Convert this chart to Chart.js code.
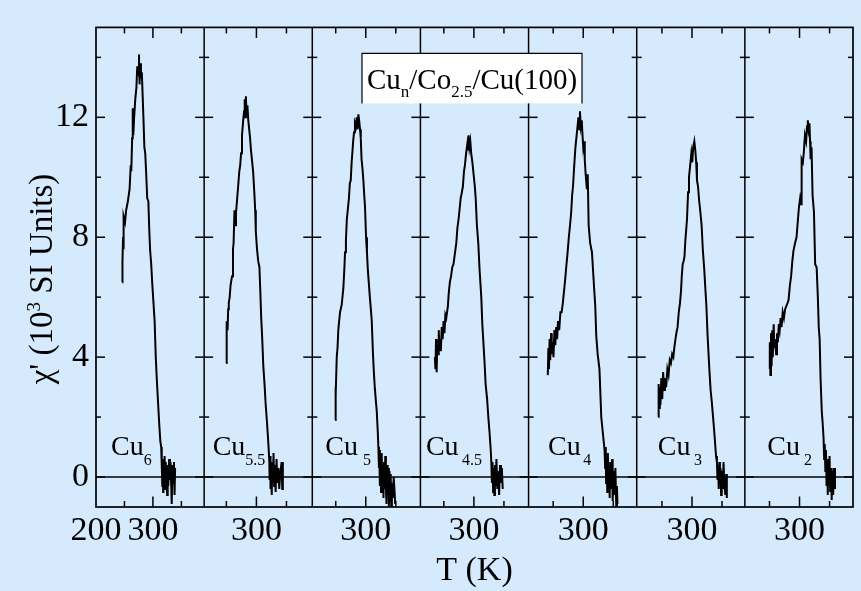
<!DOCTYPE html>
<html>
<head>
<meta charset="utf-8">
<title>Cu/Co/Cu(100) susceptibility</title>
<script src="https://cdn.jsdelivr.net/npm/chart.js@4.4.0/dist/chart.umd.min.js"></script>
<style>
  html, body { margin: 0; padding: 0; background: #d6eafd; }
  #wrap { width: 861px; height: 591px; }
</style>
</head>
<body>
<div id="wrap"><canvas id="chiChart"></canvas></div>
<script>
/* chi'(T) of Cu_n/Co2.5/Cu(100), one panel per Cu cap thickness */

// ── Panels ──
const capNames = ['6', '5.5', '5', '4.5', '4', '3', '2'];
const tMin = [200, 213, 211, 211, 209, 208, 209];
const tMax = [390, 393, 391, 391, 389, 388, 389];
const yTickValues = [0, 4, 8, 12];

// ── Curves: [T (K), chi' (10^3 SI)] ──
const cu6 = [
    [246, 6.5], [246.5, 7.2], [247.5, 8.0], [248, 7.6], [249, 8.7], [251, 8.5], [253, 8.9], [256, 9.2],
    [259, 9.6], [261, 10.4], [262, 10.2], [263.5, 11.3], [264.5, 12.3], [265.5, 11.4], [267, 12.0], [269, 12.6],
    [271, 13.0], [272.5, 13.7], [274, 13.4], [275.5, 14.1], [276.5, 13.1], [277.5, 13.8], [279, 13.3], [280.5, 13.5],
    [282, 12.7], [283.5, 11.9], [285, 11.0], [286.5, 10.8], [288, 10.2], [290, 9.3], [292, 9.2], [293.5, 8.3],
    [295, 7.6], [297, 7.1], [299, 6.4], [301, 5.8], [303, 5.2], [305, 4.0], [307, 3.2], [309, 2.5],
    [311, 1.8], [313, 1.2], [314.5, 1.0], [315.5, 0.4], [316.5, -0.3], [317, 0.6], [318, -0.5], [318.5, 0.3],
    [319.5, -0.2], [320.5, 0.7], [321.5, -0.4], [322.5, 0.5], [324, 0.0], [325, -0.6], [326, 0.4], [327, -0.3],
    [328.5, 0.6], [330, -0.1], [331, 0.5], [333, -0.9], [334.5, 0.4], [336, -0.2], [337, 0.5], [338, -0.6], [339, 0.3]
];
const cu55 = [
    [249.5, 3.8], [250, 4.6], [250.5, 4.1], [251, 5.2], [252, 4.9], [253, 5.6], [254, 5.8], [255.5, 6.0],
    [257, 6.4], [259.5, 6.7], [261, 7.6], [262, 7.8], [263.5, 8.9], [264.5, 8.4], [266, 8.8], [268, 9.3],
    [270, 9.8], [271.5, 10.2], [273, 10.4], [274.5, 10.8], [276, 11.4], [278, 11.9], [279.5, 12.2], [280.5, 12.6],
    [281.5, 12.0], [282.5, 12.7], [283.5, 12.1], [285, 12.4], [286.5, 11.9], [288, 11.6], [289.5, 11.3], [291, 10.9],
    [293, 10.5], [294.5, 10.2], [296.5, 9.5], [298, 8.9], [299, 8.2], [301, 7.6], [303, 7.2], [305, 7.0],
    [306.5, 6.2], [308, 5.3], [309.5, 4.7], [311.5, 3.7], [313.5, 3.1], [315.5, 2.4], [317, 2.0], [319, 1.4],
    [320.5, 0.9], [321.5, 0.5], [322, -0.1], [323, 0.7], [323.5, -0.4], [324.5, 0.3], [325.5, -0.6], [326.5, 0.5],
    [327.5, -0.2], [328.5, 0.8], [329.5, -0.3], [330.5, 0.4], [332, -0.5], [333.5, 0.6], [335, -0.2], [336.5, 0.3],
    [338, -0.4], [340, 0.2], [342, 0.5], [343, -0.4], [344, 0.5]
];
const cu5 = [
    [249, 1.9], [249.5, 3.0], [250.3, 2.7], [251.7, 4.0], [253, 4.3], [254.3, 4.9], [255.7, 5.2], [257.2, 5.5],
    [260, 5.75], [262.7, 6.3], [264.5, 7.0], [265.5, 7.5], [267, 7.9], [268.5, 8.6], [270, 8.9], [272, 9.3],
    [273.5, 9.8], [275, 9.9], [276.5, 10.5], [278, 10.9], [279, 11.2], [280.5, 11.5], [282, 11.8], [283.5, 11.7],
    [285, 12.0], [286.5, 11.6], [287.7, 12.1], [289, 11.9], [290.5, 11.6], [291.7, 11.3], [293, 10.6], [294.5, 10.3],
    [296, 9.9], [297.5, 9.4], [298.8, 9.0], [300.5, 8.0], [302, 7.5], [303.5, 6.9], [305, 6.5], [307, 5.95],
    [308.5, 5.6], [310, 5.2], [312, 4.1], [313.5, 3.5], [315, 3.0], [317, 2.5], [318.3, 2.2], [320, 1.5],
    [321, 1.0], [322, 0.3], [322.5, 0.9], [323.5, -0.3], [324.5, 0.6], [325.5, -0.5], [326.5, 0.8], [327.5, -0.2],
    [328.5, 0.4], [329.5, -0.7], [330.5, 0.5], [331.5, -0.4], [332.5, 0.7], [333.5, -0.3], [334.5, -0.9], [335.5, 0.4],
    [336.5, -0.6], [337.5, 0.3], [338.5, -1.0], [339.5, 0.2], [340.5, -0.8], [341.5, 0.1], [342.5, -1.05], [343.5, -0.2],
    [345, -0.7], [346.5, 0.0], [348, -0.5], [349, -0.9]
];
const cu45 = [
    [235, 4.0], [236, 3.6], [237, 4.6], [238, 3.5], [239, 4.4], [240.5, 4.1], [241.5, 4.9], [242.5, 4.3],
    [244, 4.6], [245, 4.2], [246.5, 5.0], [248, 4.6], [249.5, 5.2], [251, 4.8], [252.5, 5.4], [254, 5.3],
    [256.7, 5.7], [258, 6.1], [260, 6.5], [262, 6.7], [264, 7.0], [266, 7.1], [268, 7.4], [270.7, 7.8],
    [272.5, 8.3], [274.5, 8.6], [276.5, 9.0], [278, 9.3], [280, 9.5], [281.7, 9.7], [283.5, 10.2], [285, 10.4],
    [287, 10.8], [289, 11.1], [290, 10.9], [291.2, 11.4], [292.5, 11.0], [294, 11.2], [295.5, 10.8], [297.5, 10.5],
    [299.5, 10.1], [301.5, 9.7], [303, 9.3], [305, 8.4], [307.3, 7.8], [309.5, 6.9], [312.3, 6.0], [314, 5.1],
    [315.5, 4.6], [317.8, 3.8], [319.5, 3.1], [322, 2.6], [324, 2.0], [326, 1.5], [328, 0.9], [329, 0.5],
    [330, -0.2], [331, 0.5], [332, -0.5], [333, 0.3], [334, -0.6], [335, 0.4], [336, -0.3], [337.5, 0.6],
    [339, -0.4], [340.5, 0.2], [342, -0.6], [343.5, 0.4], [345, -0.2], [346.5, 0.3], [348, -0.4]
];
const cu4 = [
    [241, 3.4], [242, 4.3], [243, 3.6], [244, 4.6], [245, 3.9], [246.5, 4.8], [247.5, 4.1], [249, 4.5],
    [250.5, 4.0], [252, 4.9], [253.5, 4.4], [255, 5.0], [256.5, 4.6], [258, 5.2], [260, 4.9], [262, 5.5],
    [264, 5.5], [266, 5.8], [268, 6.2], [270, 6.6], [271.7, 7.0], [274, 7.5], [276, 8.0], [278, 8.4],
    [280, 8.85], [281.5, 9.4], [283, 9.7], [285, 10.4], [287, 11.0], [289, 11.4], [290.5, 11.7], [292, 12.0],
    [293, 11.6], [294.5, 12.2], [296, 11.7], [297.5, 11.9], [298.5, 11.5], [300, 11.0], [301.5, 11.2], [302.5, 10.6],
    [304, 10.1], [306, 9.6], [307.5, 10.1], [309, 8.4], [311.5, 7.8], [314.5, 7.5], [317.5, 6.5], [320, 5.7],
    [321.7, 4.7], [324, 4.1], [327, 3.6], [330, 2.0], [332, 1.6], [334, 1.2], [335.5, 0.9], [336.5, 0.3],
    [337.5, 1.0], [338, -0.2], [339, 0.6], [340, -0.5], [341, 0.8], [342, -0.3], [343, 0.4], [344, -0.7],
    [345, 0.5], [346.5, -0.4], [348, 0.6], [349, -0.8], [350.5, 0.2], [352, -0.6], [353.5, 0.3], [355, -1.0],
    [356, -0.3], [357, -0.9]
];
const cu3 = [
    [244, 2.0], [244.5, 3.1], [245.5, 2.3], [246.5, 3.0], [247.5, 2.4], [249, 3.3], [250.5, 2.6], [252, 3.5],
    [253.5, 2.9], [255, 3.3], [257, 3.0], [259, 3.6], [261, 3.4], [263, 3.9], [265, 3.8], [267, 4.1],
    [269, 4.0], [270.5, 4.3], [272.5, 4.6], [274, 4.8], [276, 5.0], [278, 5.5], [280, 5.8], [281.7, 6.2],
    [283, 6.7], [284.5, 7.1], [286, 7.2], [287.5, 7.35], [289, 7.9], [291.7, 8.6], [293.5, 9.5], [295, 10.0],
    [297, 10.4], [298.9, 10.8], [300.5, 10.5], [302, 11.0], [303.9, 11.2], [305.5, 10.9], [307, 10.5], [308.3, 9.9],
    [310, 9.7], [312, 9.2], [313.9, 8.85], [316, 8.4], [318, 7.6], [320.5, 6.9], [322.5, 6.2], [324, 5.7],
    [326, 4.7], [328.9, 3.6], [331, 2.9], [333, 2.5], [335.5, 1.9], [337.5, 1.4], [340, 0.7], [341.5, 0.5],
    [342.5, -0.1], [343.5, 0.4], [344.5, -0.4], [345.5, 0.5], [346.5, -0.2], [347.5, 0.3], [348.5, -0.6], [349.5, 0.2],
    [351, -0.4], [352.5, 0.5], [354, -0.3], [355.5, -0.6], [357, 0.1], [358, -0.7]
];
const cu2 = [
    [250, 3.6], [250.5, 4.5], [251.5, 3.4], [252.5, 4.8], [253.5, 3.7], [254.5, 4.9], [255.5, 4.0], [257, 5.1],
    [258, 4.3], [259.5, 4.6], [261, 4.1], [262.5, 4.8], [264, 4.5], [265.5, 5.1], [267, 4.9], [268.5, 5.3],
    [270, 5.0], [272, 5.5], [274, 5.3], [276, 5.6], [278, 5.7], [280, 5.8], [281.7, 5.9], [284, 6.4],
    [286, 6.7], [288, 7.2], [290, 7.56], [292.5, 7.8], [295, 8.0], [297, 8.5], [299, 9.0], [301, 9.3],
    [302.5, 9.1], [303.5, 10.6], [305.5, 10.5], [307, 10.8], [309, 11.4], [311, 11.2], [312.5, 11.7], [313.8, 11.9],
    [315, 11.6], [316.5, 11.8], [317.5, 11.2], [318.5, 10.6], [320, 11.0], [321.7, 9.4], [324, 8.85], [326, 7.1],
    [328.5, 7.0], [330.5, 6.0], [332, 5.0], [333.5, 4.6], [335, 3.3], [337, 2.2], [338.5, 1.8], [340, 1.3],
    [341, 0.6], [342, 1.1], [343, 0.2], [344, 0.9], [345, -0.3], [346, 0.6], [347, -0.6], [348, 0.4],
    [349, -0.2], [350, 0.7], [351, -0.5], [352.5, 0.3], [353.5, -0.77], [354.5, 0.2], [356, -0.6], [357.5, 0.3], [359, -0.4]
];
const curves = [cu6, cu55, cu5, cu45, cu4, cu3, cu2];

const SERIF = '"Liberation Serif", "Times New Roman", serif';
const BG = '#d6eafd';
const panelIds = capNames.map((n, i) => 'x' + (i + 1));

// label placement inside each panel: offset of "Cu" from panel left, gap before subscript
const labelDx = [15, 8.5, 13, 5.5, 19.5, 21, 22.5];
const labelGap = [0, 0, 5, 3.5, 2.5, 3.5, 4];

function strokeLine(ctx, x1, y1, x2, y2) {
    ctx.beginPath();
    ctx.moveTo(x1, y1);
    ctx.lineTo(x2, y2);
    ctx.stroke();
}

// text made of [string, font, baseline shift] pieces, drawn left to right
function drawPieces(ctx, pieces, x, y) {
    pieces.forEach(([txt, font, dy]) => {
        ctx.font = font;
        ctx.fillText(txt, x, y + dy);
        x += ctx.measureText(txt).width;
    });
    return x;
}
function piecesWidth(ctx, pieces) {
    let w = 0;
    pieces.forEach(([txt, font]) => { ctx.font = font; w += ctx.measureText(txt).width; });
    return w;
}

// ── Frame, inward ticks, zero line, labels ──
const framePlugin = {
    id: 'frame',
    beforeDraw(chart) {
        const { ctx, width, height } = chart;
        ctx.save();
        ctx.fillStyle = BG;
        ctx.fillRect(0, 0, width, height);
        ctx.restore();
    },
    afterDatasetsDraw(chart) {
        const { ctx, chartArea: a } = chart;
        const y = chart.scales.y;
        ctx.save();
        ctx.strokeStyle = '#000';
        ctx.lineWidth = 1.5;

        const y0 = y.getPixelForValue(0);
        strokeLine(ctx, a.left, y0, a.right, y0);

        panelIds.forEach((id, i) => {
            const s = chart.scales[id];
            if (i > 0) strokeLine(ctx, s.left, a.top, s.left, a.bottom);
            for (let v = 0; v <= 14; v += 2) {
                const py = y.getPixelForValue(v);
                const len = v % 4 === 0 ? 9 : 5;
                strokeLine(ctx, s.left, py, s.left + len, py);
                strokeLine(ctx, s.right - len, py, s.right, py);
            }
            [250, 300, 350].forEach(t => {
                const px = s.getPixelForValue(t);
                const len = t === 300 ? 10.5 : 6;
                strokeLine(ctx, px, a.top, px, a.top + len);
                strokeLine(ctx, px, a.bottom - len, px, a.bottom);
            });
        });
        ctx.lineWidth = 1.7;
        ctx.strokeRect(a.left, a.top, a.right - a.left, a.bottom - a.top);

        // panel labels Cu_n
        ctx.fillStyle = '#000';
        ctx.textBaseline = 'alphabetic';
        ctx.textAlign = 'left';
        panelIds.forEach((id, i) => {
            const s = chart.scales[id];
            const base = y.getPixelForValue(0.73);
            ctx.font = '28px ' + SERIF;
            const x = s.left + labelDx[i];
            ctx.fillText('Cu', x, base);
            const w = ctx.measureText('Cu').width;
            ctx.font = '16px ' + SERIF;
            ctx.fillText(capNames[i], x + w + labelGap[i], base + 9.5);
        });

        // sample box
        const bx = a.left + 266, by = a.top + 26, bw = 220, bh = 50;
        ctx.fillStyle = '#fff';
        ctx.fillRect(bx, by, bw, bh);
        ctx.lineWidth = 1.2;
        ctx.beginPath();
        ctx.moveTo(bx, by + bh);
        ctx.lineTo(bx, by);
        ctx.lineTo(bx + bw, by);
        ctx.lineTo(bx + bw, by + bh);
        ctx.stroke();
        const big = '29px ' + SERIF, sub = '17px ' + SERIF;
        const boxText = [['Cu', big, 0], ['n', sub, 7.5], ['/Co', big, 0], ['2.5', sub, 7.5], ['/Cu(100)', big, 0]];
        ctx.fillStyle = '#000';
        const tw = piecesWidth(ctx, boxText);
        drawPieces(ctx, boxText, bx + (bw - tw) / 2, by + 36);
        ctx.restore();
    },
    afterDraw(chart) {
        // y axis title with superscript
        const { ctx } = chart;
        ctx.save();
        ctx.translate(52, 279);
        ctx.rotate(-Math.PI / 2);
        ctx.fillStyle = '#000';
        ctx.textBaseline = 'alphabetic';
        ctx.textAlign = 'left';
        const big = '33px ' + SERIF, sup = '19px ' + SERIF;
        const title = [["\u03C7' (10", big, 0], ['3', sup, -12], [' SI Units)', big, 0]];
        const tw = piecesWidth(ctx, title);
        drawPieces(ctx, title, -tw / 2, 0);
        ctx.restore();
    }
};

// ── Scales ──
const scales = {
    y: {
        type: 'linear',
        position: 'left',
        min: -1,
        max: 15,
        grid: { display: false, drawTicks: false },
        border: { display: false },
        afterBuildTicks: s => { s.ticks = yTickValues.map(v => ({ value: v })); },
        afterFit: s => { s.width = 96; },
        ticks: { color: '#000', padding: 7, font: { family: SERIF, size: 34 } }
    }
};
panelIds.forEach((id, i) => {
    scales[id] = {
        type: 'linear',
        position: 'bottom',
        stack: 'temperature',
        min: tMin[i],
        max: tMax[i],
        grid: { display: false, drawTicks: false },
        border: { display: false },
        afterBuildTicks: s => { s.ticks = (i === 0 ? [200, 300] : [300]).map(v => ({ value: v })); },
        afterFit: s => { s.height = 84; },
        ticks: {
            color: '#000', padding: 4, autoSkip: false, maxRotation: 0,
            font: { family: SERIF, size: 34 }
        },
        title: {
            display: i === 3,
            text: 'T (K)',
            color: '#000',
            font: { family: SERIF, size: 34 },
            padding: { top: 0, bottom: 0 }
        }
    };
});

new Chart(document.getElementById('chiChart'), {
    type: 'scatter',
    data: {
        datasets: curves.map((c, i) => ({
            label: 'Cu' + capNames[i],
            data: c.map(([t, v]) => ({ x: t, y: v })),
            xAxisID: panelIds[i],
            yAxisID: 'y',
            showLine: true,
            borderColor: '#000',
            borderWidth: 2,
            pointRadius: 0,
            tension: 0,
            fill: false
        }))
    },
    options: {
        responsive: true,
        maintainAspectRatio: false,
        animation: false,
        devicePixelRatio: 1,
        layout: { padding: { top: 8, right: 8, left: 0, bottom: 0 } },
        plugins: { legend: { display: false }, tooltip: { enabled: false } },
        scales: scales
    },
    plugins: [framePlugin]
});
</script>
</body>
</html>
